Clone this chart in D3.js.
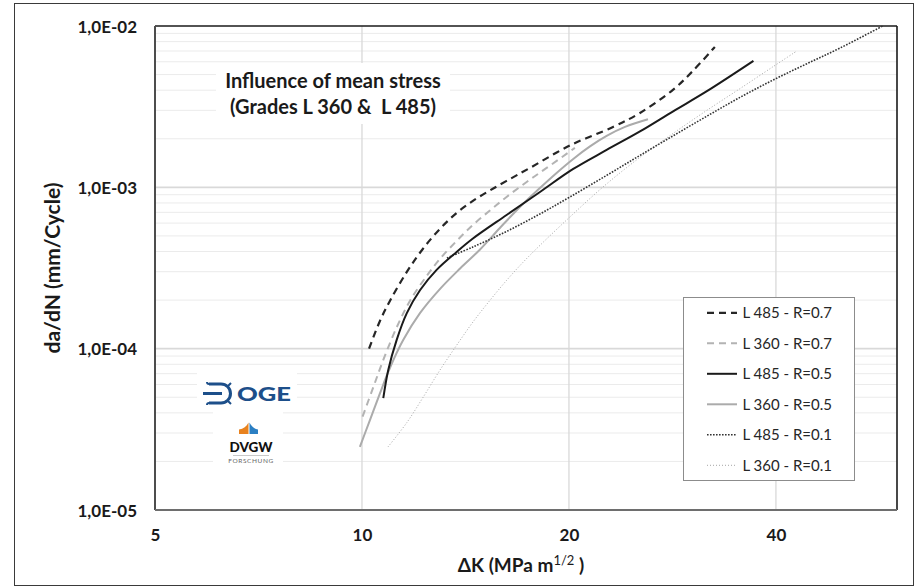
<!DOCTYPE html>
<html>
<head>
<meta charset="utf-8">
<script src="https://cdn.jsdelivr.net/npm/d3@7"></script>
<style>
  html, body { margin: 0; padding: 0; background: #fff; }
  svg { display: block; font-family: Lato, "Open Sans", "Liberation Sans", sans-serif; }
</style>
</head>
<body>
<svg id="chart" width="917" height="587"></svg>
<script>
// Axis ticks
const kTicks = [5, 10, 20, 40];
const kTickLabels = ["5", "10", "20", "40"];
const rateTicks = [1e-5, 1e-4, 1e-3, 1e-2];
const rateTickLabels = ["1,0E-05", "1,0E-04", "1,0E-03", "1,0E-02"];

// Series names (legend order)
const seriesNames = ["L 485 - R=0.7", "L 360 - R=0.7", "L 485 - R=0.5", "L 360 - R=0.5", "L 485 - R=0.1", "L 360 - R=0.1"];

// ΔK (MPa m^1/2) and da/dN (mm/cycle) for each curve
const l485R07Dk   = [10.24, 10.62, 10.98, 11.62, 12.26, 12.98, 13.73, 14.5, 15.35, 16.23, 17.55, 20.07, 23.18, 25.37, 28.33, 30.29, 32.6];
const l485R07Rate = [1.0e-4, 1.485e-4, 1.976e-4, 2.99e-4, 4.15e-4, 5.52e-4, 6.94e-4, 8.24e-4, 9.57e-4, 1.096e-3, 1.319e-3, 1.819e-3, 2.368e-3, 2.89e-3, 4.02e-3, 5.27e-3, 7.42e-3];

const l360R07Dk   = [10.02, 10.39, 10.74, 11.23, 11.74, 12.42, 12.98, 13.73, 14.5, 15.35, 16.23, 17.36, 18.56, 20.4];
const l360R07Rate = [3.79e-5, 5.79e-5, 8.51e-5, 1.353e-4, 1.976e-4, 2.823e-4, 3.6e-4, 4.65e-4, 5.85e-4, 7.19e-4, 8.72e-4, 1.08e-3, 1.319e-3, 1.755e-3];

const l485R05Dk   = [10.74, 10.92, 11.23, 11.62, 12.15, 12.84, 13.73, 14.5, 16.23, 18.15, 20.29, 22.69, 25.37, 28.35, 31.7, 37.1];
const l485R05Rate = [4.93e-5, 7.38e-5, 1.13e-4, 1.66e-4, 2.31e-4, 3.08e-4, 3.98e-4, 4.82e-4, 6.74e-4, 9.36e-4, 1.30e-3, 1.705e-3, 2.22e-3, 2.96e-3, 3.93e-3, 6.08e-3];

const l360R05Dk   = [9.93, 10.27, 10.62, 10.98, 11.48, 12.15, 12.98, 13.89, 14.85, 15.87, 16.97, 18.15, 19.19, 20.29, 21.46, 22.69, 24.13, 26.06];
const l360R05Rate = [2.46e-5, 3.61e-5, 5.28e-5, 7.59e-5, 1.13e-4, 1.665e-4, 2.34e-4, 3.14e-4, 4.12e-4, 5.6e-4, 7.56e-4, 9.92e-4, 1.229e-3, 1.5e-3, 1.793e-3, 2.083e-3, 2.368e-3, 2.64e-3];

const l485R01Dk   = [13.29, 14.5, 16.23, 18.15, 20.07, 22.69, 25.37, 28.33, 31.7, 35.46, 39.64, 44.3, 49.6, 57.2];
const l485R01Rate = [3.65e-4, 4.27e-4, 5.33e-4, 6.84e-4, 8.72e-4, 1.186e-3, 1.577e-3, 2.083e-3, 2.752e-3, 3.61e-3, 4.63e-3, 5.82e-3, 7.31e-3, 1.0e-2];

const l360R01Dk   = [10.91, 11.62, 12.28, 12.98, 13.73, 14.5, 15.35, 16.23, 17.16, 18.15, 20.07, 22.56, 25.37, 28.33, 31.7, 35.46, 39.6, 42.9];
const l360R01Rate = [2.46e-5, 3.48e-5, 5.02e-5, 7.35e-5, 1.05e-4, 1.462e-4, 1.993e-4, 2.65e-4, 3.44e-4, 4.37e-4, 6.56e-4, 1.029e-3, 1.535e-3, 2.155e-3, 2.99e-3, 4.09e-3, 5.59e-3, 7.0e-3];

// Line styles for each curve
const seriesStyles = [
  { color: "#262626", width: 2.2, dash: "7,5" },
  { color: "#b3b3b3", width: 2,   dash: "7,5" },
  { color: "#1a1a1a", width: 2,   dash: null },
  { color: "#ababab", width: 2,   dash: null },
  { color: "#333333", width: 1.6, dash: "1.6,1.4" },
  { color: "#a6a6a6", width: 1,   dash: "1,2" }
];

const dkArrays = [l485R07Dk, l360R07Dk, l485R05Dk, l360R05Dk, l485R01Dk, l360R01Dk];
const rateArrays = [l485R07Rate, l360R07Rate, l485R05Rate, l360R05Rate, l485R01Rate, l360R01Rate];

const series = seriesNames.map((name, i) => ({
  name,
  style: seriesStyles[i],
  points: dkArrays[i].map((k, j) => ({ k, r: rateArrays[i][j] }))
}));

const svg = d3.select("#chart");
const plot = { left: 155, top: 26, right: 897, bottom: 510 };

const x = d3.scaleLog().base(2).domain([5, 60]).range([plot.left, plot.right]);
const y = d3.scaleLog().base(10).domain([1e-5, 1e-2]).range([plot.bottom, plot.top]);

// Outer chart frame
svg.append("rect").attr("x", 0).attr("y", 0).attr("width", 917).attr("height", 587).attr("fill", "#fff");
svg.append("rect")
  .attr("x", 14.5).attr("y", 3.5).attr("width", 899).attr("height", 582)
  .attr("fill", "none").attr("stroke", "#3a3a3a").attr("stroke-width", 1);

// Horizontal gridlines: minor (2..9 per decade) and major (decades)
const minorRates = [];
[1e-5, 1e-4, 1e-3].forEach(d => { for (let m = 2; m <= 9; m++) minorRates.push(d * m); });
const grid = svg.append("g");
grid.selectAll("line.minor").data(minorRates).join("line")
  .attr("x1", plot.left).attr("x2", plot.right)
  .attr("y1", d => y(d)).attr("y2", d => y(d))
  .attr("stroke", "#ebebeb").attr("stroke-width", 1);
grid.selectAll("line.major").data([1e-4, 1e-3]).join("line")
  .attr("x1", plot.left).attr("x2", plot.right)
  .attr("y1", d => y(d)).attr("y2", d => y(d))
  .attr("stroke", "#d9d9d9").attr("stroke-width", 1.6);
grid.selectAll("line.vert").data(kTicks.slice(1)).join("line")
  .attr("x1", d => x(d)).attr("x2", d => x(d))
  .attr("y1", plot.top).attr("y2", plot.bottom)
  .attr("stroke", "#d9d9d9").attr("stroke-width", 1.3);

// White panels behind title and logos
svg.append("rect").attr("x", 216).attr("y", 63).attr("width", 234).attr("height", 61).attr("fill", "#fff");
svg.append("rect").attr("x", 197).attr("y", 369).attr("width", 100).attr("height", 32).attr("fill", "#fff");
svg.append("rect").attr("x", 213).attr("y", 408).attr("width", 70).attr("height", 66).attr("fill", "#fff");

// Plot frame
svg.append("line").attr("x1", plot.left).attr("x2", plot.right).attr("y1", plot.top).attr("y2", plot.top)
  .attr("stroke", "#1a1a1a").attr("stroke-width", 1.6);
svg.append("line").attr("x1", plot.right).attr("x2", plot.right).attr("y1", plot.top).attr("y2", plot.bottom)
  .attr("stroke", "#1a1a1a").attr("stroke-width", 1.6);
svg.append("line").attr("x1", plot.left).attr("x2", plot.left).attr("y1", plot.top).attr("y2", plot.bottom)
  .attr("stroke", "#4d4d4d").attr("stroke-width", 2);
svg.append("line").attr("x1", plot.left).attr("x2", plot.right).attr("y1", plot.bottom).attr("y2", plot.bottom)
  .attr("stroke", "#6e6e6e").attr("stroke-width", 2);

// Axes
const xAxis = d3.axisBottom(x).tickValues(kTicks).tickSize(0).tickPadding(0)
  .tickFormat((d, i) => kTickLabels[i]);
const gx = svg.append("g").attr("transform", `translate(0,${plot.bottom})`).call(xAxis);
gx.select(".domain").remove();
gx.selectAll("text").attr("y", 31).attr("dy", 0)
  .attr("font-family", "Lato, sans-serif").attr("font-size", 17).attr("font-weight", 700).attr("fill", "#1a1a1a");

const yAxis = d3.axisLeft(y).tickValues(rateTicks).tickSize(0).tickPadding(18)
  .tickFormat((d, i) => rateTickLabels[i]);
const gy = svg.append("g").attr("transform", `translate(${plot.left},0)`).call(yAxis);
gy.select(".domain").remove();
gy.selectAll("text").attr("dy", "0.36em")
  .attr("font-family", "Lato, sans-serif").attr("font-size", 17).attr("font-weight", 700).attr("fill", "#1a1a1a");

// Axis titles
const xt = svg.append("text").attr("x", 521).attr("y", 572).attr("text-anchor", "middle")
  .attr("font-size", 19).attr("font-weight", 700).attr("fill", "#1a1a1a");
xt.append("tspan").text("ΔK (MPa m");
xt.append("tspan").attr("dy", -7).attr("font-size", 13).attr("font-weight", 400).text("1/2");
xt.append("tspan").attr("dy", 7).text(" )");

svg.append("text").attr("transform", "translate(60,268) rotate(-90)").attr("text-anchor", "middle")
  .attr("font-size", 21).attr("font-weight", 700).attr("fill", "#1a1a1a")
  .text("da/dN (mm/Cycle)");

// Chart title
svg.append("text").attr("x", 333).attr("y", 88).attr("text-anchor", "middle")
  .attr("font-size", 20).attr("font-weight", 700).attr("fill", "#1a1a1a").text("Influence of mean stress");
svg.append("text").attr("x", 333).attr("y", 114).attr("text-anchor", "middle")
  .attr("font-size", 20).attr("font-weight", 700).attr("fill", "#1a1a1a")
  .attr("xml:space", "preserve").text("(Grades L 360 &  L 485)");

// Curves
const line = d3.line().x(d => x(d.k)).y(d => y(d.r)).curve(d3.curveCatmullRom.alpha(0.5));
const curves = svg.append("g");
// lighter curves first so the dark ones sit on top
[5, 3, 1, 4, 2, 0].forEach(i => {
  const s = series[i];
  curves.append("path").datum(s.points)
    .attr("d", line)
    .attr("fill", "none")
    .attr("stroke", s.style.color)
    .attr("stroke-width", s.style.width)
    .attr("stroke-dasharray", s.style.dash)
    .attr("stroke-linecap", "butt");
});

// Legend
const legend = svg.append("g");
legend.append("rect").attr("x", 683.5).attr("y", 297.5).attr("width", 171).attr("height", 183)
  .attr("fill", "#fff").attr("stroke", "#8c8c8c").attr("stroke-width", 1);
series.forEach((s, i) => {
  const cy = 312.8 + i * 30.5;
  legend.append("line").attr("x1", 707).attr("x2", 737).attr("y1", cy).attr("y2", cy)
    .attr("stroke", s.style.color).attr("stroke-width", s.style.width)
    .attr("stroke-dasharray", s.style.dash);
  legend.append("text").attr("x", 742.5).attr("y", cy + 5.5)
    .attr("font-size", 15).attr("fill", "#262626").text(s.name);
});

// OGE logo
const oge = svg.append("g").attr("fill", "none").attr("stroke", "#1d4f8a");
oge.append("line").attr("x1", 203).attr("x2", 222).attr("y1", 393.5).attr("y2", 393.5).attr("stroke-width", 3);
oge.append("path").attr("d", "M209,384 H221 A9.5,9.5 0 0 1 221,403 H209").attr("stroke-width", 3);
oge.append("path").attr("d", "M209,384 q-2,0 -2,-2 M209,403 q-2,0 -2,2").attr("stroke-width", 2);
oge.append("path").attr("d", "M228,386 l3,-3 M228,401 l3,3").attr("stroke-width", 2);
svg.append("text").attr("x", 237).attr("y", 400.5).attr("font-size", 19).attr("font-weight", 900)
  .attr("textLength", 54).attr("lengthAdjust", "spacingAndGlyphs")
  .attr("fill", "#1d4f8a").text("OGE");

// DVGW logo
svg.append("path").attr("d", "M248.5,422.5 L248.5,434 L239,434 L239,429.5 C243.5,429 246.5,426.5 248.5,422.5 Z").attr("fill", "#e8821e");
svg.append("path").attr("d", "M249.5,422.5 C251.5,426.5 254.5,429 258,429.5 L258,434 L249.5,434 Z").attr("fill", "#2b7fc3");
svg.append("text").attr("x", 251).attr("y", 452).attr("text-anchor", "middle").attr("font-size", 13.5)
  .attr("font-weight", 900).attr("fill", "#111").text("DVGW");
svg.append("line").attr("x1", 233).attr("x2", 269).attr("y1", 455.5).attr("y2", 455.5)
  .attr("stroke", "#bbb").attr("stroke-width", 0.8);
svg.append("text").attr("x", 251).attr("y", 462.5).attr("text-anchor", "middle").attr("font-size", 6.5)
  .attr("letter-spacing", 0.6).attr("fill", "#666").text("FORSCHUNG");
</script>
</body>
</html>
